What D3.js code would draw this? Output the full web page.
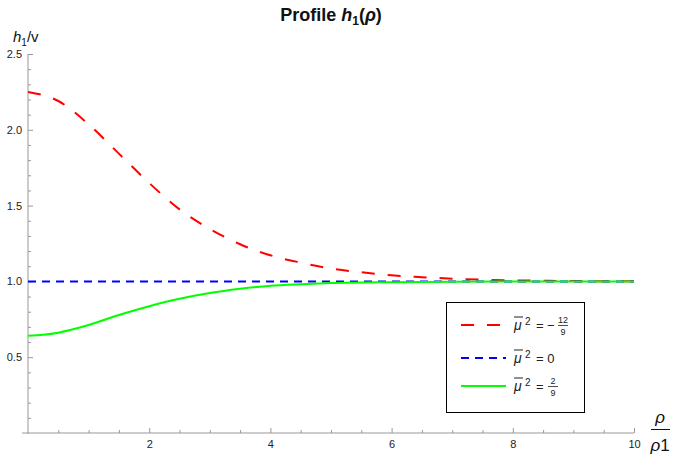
<!DOCTYPE html>
<html>
<head>
<meta charset="utf-8">
<script src="https://cdn.jsdelivr.net/npm/d3@7"></script>
<style>
  body { margin: 0; background: #fff; }
  text { font-family: "Liberation Sans", Arial, sans-serif; }
</style>
</head>
<body>
<div id="chart"></div>
<script>
// curve samples
const rhoRed = [0, 0.5, 1, 1.5, 2, 2.5, 3, 3.5, 4, 4.5, 5, 5.5, 6, 6.5, 7, 7.5, 8, 8.5, 9, 10];
const hRed = [2.25, 2.19, 2.036, 1.843, 1.649, 1.475, 1.346, 1.245, 1.172, 1.124, 1.085, 1.06, 1.04, 1.028, 1.018, 1.011, 1.007, 1.004, 1.002, 1.001];
const rhoBlue = [0, 10];
const hBlue = [1, 1];
const rhoGreen = [0, 0.5, 1, 1.5, 2, 2.5, 3, 3.5, 4, 4.5, 5, 6, 7, 8, 9, 10];
const hGreen = [0.641, 0.662, 0.712, 0.778, 0.836, 0.885, 0.923, 0.951, 0.972, 0.982, 0.989, 0.995, 0.998, 0.999, 1.0, 1.0];

const xMajor = [2, 4, 6, 8, 10];
const yMajor = [0.5, 1.0, 1.5, 2.0, 2.5];

const series = [
  { rho: rhoRed, h: hRed, color: "#ff0000", dash: "13,13", num: "12", den: "9", sign: "−" },
  { rho: rhoBlue, h: hBlue, color: "#0000ff", dash: "8,6", plain: "0" },
  { rho: rhoGreen, h: hGreen, color: "#00ff00", dash: null, num: "2", den: "9", sign: "" }
];

const W = 673, H = 457;
const svg = d3.select("#chart").append("svg").attr("width", W).attr("height", H);

const x = d3.scaleLinear().domain([0, 10]).range([28, 634]);
const y = d3.scaleLinear().domain([0, 2.5]).range([433, 54]);

const axisColor = "#999";

// minor ticks
svg.append("g")
  .attr("transform", "translate(0," + y(0) + ")")
  .call(d3.axisBottom(x).tickValues(d3.range(0.5, 10.01, 0.5).filter(v => v % 2 !== 0)).tickSize(-3).tickFormat(""))
  .call(g => g.select(".domain").remove())
  .call(g => g.selectAll("line").attr("stroke", axisColor));
svg.append("g")
  .attr("transform", "translate(" + x(0) + ",0)")
  .call(d3.axisLeft(y).tickValues(d3.range(1, 26).filter(v => v % 5 !== 0).map(v => v / 10)).tickSize(-3).tickFormat(""))
  .call(g => g.select(".domain").remove())
  .call(g => g.selectAll("line").attr("stroke", axisColor));

// major ticks
svg.append("g")
  .attr("transform", "translate(0," + y(0) + ")")
  .call(d3.axisBottom(x).tickValues(xMajor).tickSize(-5).tickPadding(7).tickFormat(d3.format("d")))
  .call(g => g.select(".domain").remove())
  .call(g => g.selectAll("line").attr("stroke", axisColor))
  .call(g => g.selectAll("text").attr("fill", "#222").style("font-size", "11px"));
svg.append("g")
  .attr("transform", "translate(" + x(0) + ",0)")
  .call(d3.axisLeft(y).tickValues(yMajor).tickSize(-5).tickPadding(6).tickFormat(d3.format(".1f")))
  .call(g => g.select(".domain").remove())
  .call(g => g.selectAll("line").attr("stroke", axisColor))
  .call(g => g.selectAll("text").attr("fill", "#222").style("font-size", "11px"));

// axis lines
svg.append("line").attr("x1", 22).attr("x2", x(10)).attr("y1", y(0)).attr("y2", y(0))
  .attr("stroke", axisColor);
svg.append("line").attr("x1", x(0)).attr("x2", x(0)).attr("y1", y(0) + 1).attr("y2", y(2.5))
  .attr("stroke", axisColor);

// curves
const line = d3.line().curve(d3.curveMonotoneX);
series.forEach(s => {
  svg.append("path")
    .attr("d", line(s.rho.map((r, i) => [x(r), y(s.h[i])])))
    .attr("fill", "none")
    .attr("stroke", s.color)
    .attr("stroke-width", 2)
    .attr("stroke-dasharray", s.dash);
});

// title
const title = svg.append("text").attr("x", 331).attr("y", 21).attr("text-anchor", "middle")
  .style("font-size", "18px").style("font-weight", "bold").attr("fill", "#111");
title.append("tspan").text("Profile ");
title.append("tspan").style("font-style", "italic").text("h");
title.append("tspan").attr("dy", 4).style("font-size", "12px").text("1");
title.append("tspan").attr("dy", -4).text("(");
title.append("tspan").style("font-style", "italic").text("ρ");
title.append("tspan").text(")");

// y label
const yl = svg.append("text").attr("x", 13).attr("y", 42).style("font-size", "15px").attr("fill", "#111");
yl.append("tspan").style("font-style", "italic").text("h");
yl.append("tspan").attr("dy", 4).style("font-size", "10px").text("1");
yl.append("tspan").attr("dy", -4).text("/v");

// x label as fraction
svg.append("text").attr("x", 660).attr("y", 423).attr("text-anchor", "middle")
  .style("font-size", "17px").style("font-style", "italic").attr("fill", "#111").text("ρ");
svg.append("line").attr("x1", 651).attr("x2", 670).attr("y1", 429.5).attr("y2", 429.5)
  .attr("stroke", "#111").attr("stroke-width", 1);
const xl = svg.append("text").attr("x", 660).attr("y", 451).attr("text-anchor", "middle")
  .style("font-size", "17px").attr("fill", "#111");
xl.append("tspan").style("font-style", "italic").text("ρ");
xl.append("tspan").text("1");

// legend
const lg = svg.append("g");
lg.append("rect").attr("x", 446.5).attr("y", 302.5).attr("width", 138).attr("height", 110)
  .attr("fill", "#fff").attr("stroke", "#000").attr("stroke-width", 1);
const rowY = [325, 358, 386];
series.forEach((s, i) => {
  const ry = rowY[i];
  lg.append("line").attr("x1", 461).attr("x2", 506).attr("y1", ry).attr("y2", ry)
    .attr("stroke", s.color).attr("stroke-width", 2).attr("stroke-dasharray", s.dash);
  lg.append("text").attr("x", 514).attr("y", ry + 5).style("font-size", "14px")
    .style("font-style", "italic").attr("fill", "#222").text("μ");
  lg.append("line").attr("x1", 514).attr("x2", 523).attr("y1", ry - 8).attr("y2", ry - 8)
    .attr("stroke", "#222").attr("stroke-width", 1);
  lg.append("text").attr("x", 525).attr("y", ry + 0).style("font-size", "10px")
    .attr("fill", "#222").text("2");
  lg.append("text").attr("x", 536).attr("y", ry + 5).style("font-size", "13px")
    .attr("fill", "#222").text("=" + (s.plain !== undefined ? " " + s.plain : ""));
  if (s.sign) {
    lg.append("text").attr("x", 547).attr("y", ry + 5).style("font-size", "13px")
      .attr("fill", "#222").text(s.sign);
  }
  if (s.num) {
    const fx = s.sign ? 563 : 553;
    lg.append("text").attr("x", fx).attr("y", ry - 2).attr("text-anchor", "middle")
      .style("font-size", "9px").attr("fill", "#222").text(s.num);
    lg.append("line").attr("x1", fx - 5).attr("x2", fx + 5).attr("y1", ry + 0.5).attr("y2", ry + 0.5)
      .attr("stroke", "#222").attr("stroke-width", 0.8);
    lg.append("text").attr("x", fx).attr("y", ry + 10).attr("text-anchor", "middle")
      .style("font-size", "9px").attr("fill", "#222").text(s.den);
  }
});
</script>
</body>
</html>
